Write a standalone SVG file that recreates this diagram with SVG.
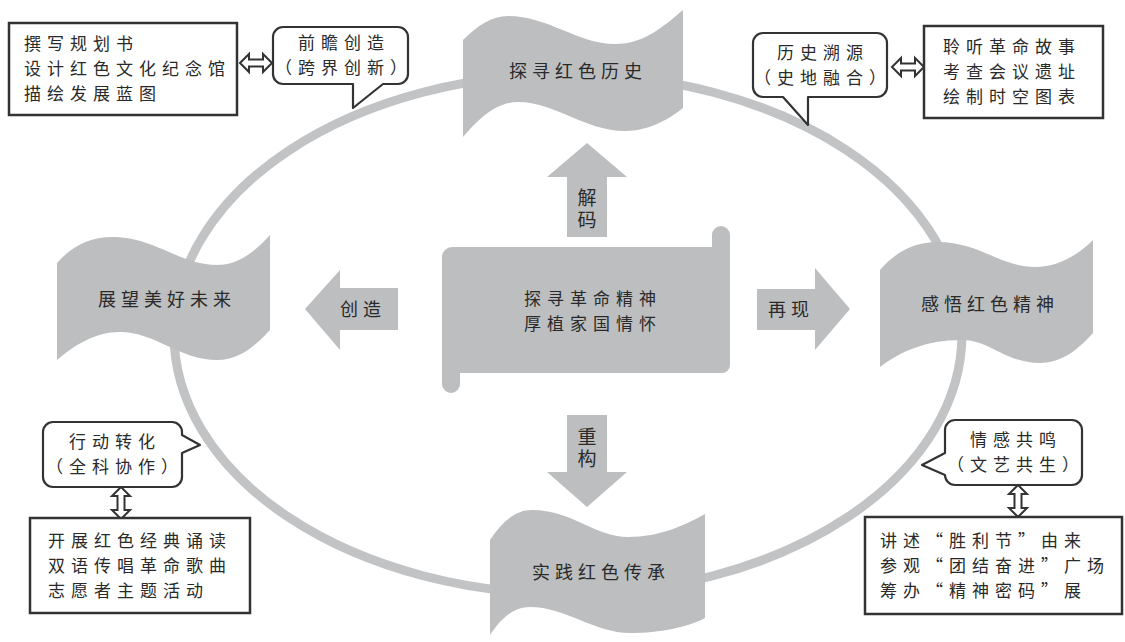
<svg xmlns="http://www.w3.org/2000/svg" xmlns:xlink="http://www.w3.org/1999/xlink" width="1125" height="642" viewBox="0 0 1125 642">
<style>
.bg{fill:#ffffff}
.ring{fill:none;stroke:#c2c3c5;stroke-width:9}
.gray{fill:#bdbec0}
.box{fill:#ffffff;stroke:#333333;stroke-width:2.5}
.bub{fill:#ffffff;stroke:#333333;stroke-width:2.2;stroke-linejoin:round}
.dbl{fill:#ffffff;stroke:#333333;stroke-width:2;stroke-linejoin:miter}
text{font-family:"Noto Sans CJK SC","Noto Sans CJK TC",sans-serif;font-size:18px;fill:#2a2a2a;letter-spacing:5px;font-feature-settings:"fwid"}
.m{font-size:17px;letter-spacing:6px}
.c{text-anchor:middle}
.v{writing-mode:vertical-rl;text-anchor:middle;letter-spacing:3px;font-size:19px}
</style>
<defs>
<path id="dblh" d="M-16,0 L-7,-9 L-7,-3.5 L7,-3.5 L7,-9 L16,0 L7,9 L7,3.5 L-7,3.5 L-7,9 Z"/>
</defs>
<rect class="bg" x="0" y="0" width="1125" height="642"/>

<g id="connectors">
<ellipse class="ring" cx="568" cy="334" rx="394" ry="260"/>
<path class="gray" d="M567,237 L567,177 L547,177 L587,143 L627,177 L607,177 L607,237 Z"/>
<path class="gray" d="M567,415 L607,415 L607,472 L627,472 L587,507 L547,472 L567,472 Z"/>
<path class="gray" d="M398,288 L340,288 L340,270 L305,309 L340,350 L340,330 L398,330 Z"/>
<path class="gray" d="M757,289 L815,289 L815,268 L850,309 L815,350 L815,330 L757,330 Z"/>
<text class="v" x="587" y="210">解码</text>
<text class="v" x="587" y="449">重构</text>
<text class="c" x="363" y="316">创造</text>
<text class="c" x="791" y="316">再现</text>
<use xlink:href="#dblh" class="dbl" transform="translate(256,63)"/>
<use xlink:href="#dblh" class="dbl" transform="translate(908,67)"/>
<use xlink:href="#dblh" class="dbl" transform="translate(121,503) rotate(90)"/>
<use xlink:href="#dblh" class="dbl" transform="translate(1018,501) rotate(90)"/>
</g>

<g id="center">
<path class="gray" d="M452,247 L712,247 L712,235 A9,9 0 0 1 730,235 L730,365 A8,8 0 0 1 722,373 L460,373 L460,384 A9,9 0 0 1 442,384 L442,257 A10,10 0 0 1 452,247 Z"/>
<text class="c m"><tspan x="593" y="305">探寻革命精神</tspan><tspan x="593" y="330">厚植家国情怀</tspan></text>
</g>

<g id="top-banner">
<path class="gray" d="M463,40 C478,25 492,16 508,16 C548,16 578,44 615,44 C645,44 665,25 683,10 L683,108 C668,120 648,131 625,131 C585,131 555,102 518,102 C495,102 478,120 463,137 Z"/>
<text class="c" x="578" y="78">探寻红色历史</text>
</g>

<g id="right-banner">
<path class="gray" d="M880,270 C895,252 915,242 937,242 C980,242 1000,267 1035,267 C1058,267 1078,255 1093,240 L1093,333 C1080,348 1062,363 1040,363 C1005,363 990,340 962,340 C925,340 900,352 880,367 Z"/>
<text class="c" x="990" y="311">感悟红色精神</text>
</g>

<g id="left-banner">
<path class="gray" d="M57,263 C72,246 90,237 112,237 C155,237 180,265 217,265 C240,265 256,250 270,235 L270,330 C256,345 240,360 217,360 C180,360 155,332 120,332 C95,332 75,345 57,360 Z"/>
<text class="c" x="167" y="306">展望美好未来</text>
</g>

<g id="bottom-banner">
<path class="gray" d="M490,540 C502,522 515,510 532,510 C572,510 595,537 628,537 C660,537 685,525 705,514 L705,618 C688,627 660,633 630,633 C595,633 565,607 530,607 C512,607 500,620 490,635 Z"/>
<text class="c" x="601" y="579">实践红色传承</text>
</g>

<g id="box-top-left">
<rect class="box" x="9" y="23" width="228" height="92"/>
<text class="m"><tspan x="24" y="50">撰写规划书</tspan><tspan x="24" y="75">设计红色文化纪念馆</tspan><tspan x="24" y="100">描绘发展蓝图</tspan></text>
</g>

<g id="bubble-top-left">
<path class="bub" d="M283,27 H398 A10,10 0 0 1 408,37 V74 A10,10 0 0 1 398,84 H383 L353,108 V84 H283 A10,10 0 0 1 273,74 V37 A10,10 0 0 1 283,27 Z"/>
<text class="c m"><tspan x="344" y="49">前瞻创造</tspan><tspan x="344" y="74">（跨界创新）</tspan></text>
</g>

<g id="bubble-top-right">
<path class="bub" d="M763,33 H877 A10,10 0 0 1 887,43 V87 A10,10 0 0 1 877,97 H808 V125 L783,97 H763 A10,10 0 0 1 753,87 V43 A10,10 0 0 1 763,33 Z"/>
<text class="c m"><tspan x="823" y="59">历史溯源</tspan><tspan x="823" y="84">（史地融合）</tspan></text>
</g>

<g id="box-top-right">
<rect class="box" x="924" y="26" width="179" height="92"/>
<text class="m"><tspan x="943" y="53">聆听革命故事</tspan><tspan x="943" y="78">考查会议遗址</tspan><tspan x="943" y="103">绘制时空图表</tspan></text>
</g>

<g id="bubble-bottom-left">
<path class="bub" d="M53,422 H172 A10,10 0 0 1 182,432 V435 L200,445 L182,453 V477 A10,10 0 0 1 172,487 H53 A10,10 0 0 1 43,477 V432 A10,10 0 0 1 53,422 Z"/>
<text class="c m"><tspan x="115" y="448">行动转化</tspan><tspan x="115" y="473">（全科协作）</tspan></text>
</g>

<g id="box-bottom-left">
<rect class="box" x="30" y="518" width="220" height="95"/>
<text class="m"><tspan x="48" y="547">开展红色经典诵读</tspan><tspan x="48" y="572">双语传唱革命歌曲</tspan><tspan x="48" y="597">志愿者主题活动</tspan></text>
</g>

<g id="bubble-bottom-right">
<path class="bub" d="M955,420 H1072 A10,10 0 0 1 1082,430 V475 A10,10 0 0 1 1072,485 H955 A10,10 0 0 1 945,475 L922,465 L945,453 V430 A10,10 0 0 1 955,420 Z"/>
<text class="c m"><tspan x="1016" y="446">情感共鸣</tspan><tspan x="1016" y="471">（文艺共生）</tspan></text>
</g>

<g id="box-bottom-right">
<rect class="box" x="865" y="517" width="257" height="97"/>
<text class="m"><tspan x="880" y="547">讲述“胜利节”由来</tspan><tspan x="880" y="572">参观“团结奋进”广场</tspan><tspan x="880" y="597">筹办“精神密码”展</tspan></text>
</g>
</svg>
